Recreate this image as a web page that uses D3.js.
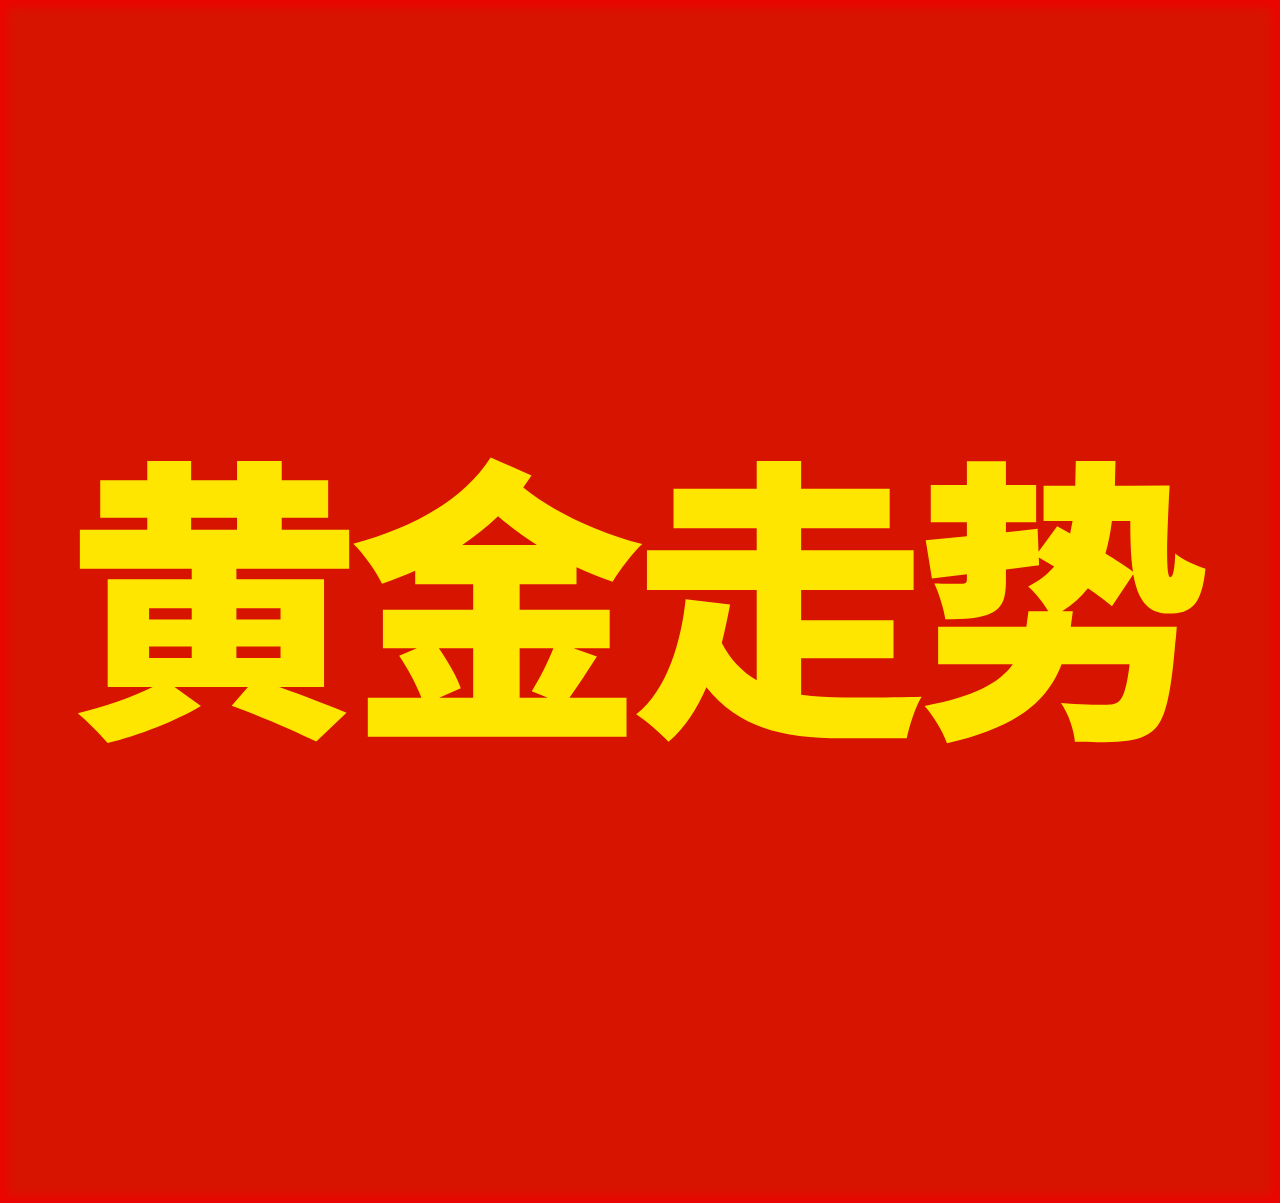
<!DOCTYPE html>
<html><head><meta charset="utf-8">
<script src="https://cdn.jsdelivr.net/npm/d3@7"></script>
<style>html,body{margin:0;padding:0;background:#d71400;overflow:hidden}</style>
</head><body>
<script>
const titleChars = ["黄","金","走","势"];
const W = 1280, H = 1203;
const svg = d3.select("body").append("svg").attr("width", W).attr("height", H);
const defs = svg.append("defs");
defs.append("filter").attr("id","blur").append("feGaussianBlur").attr("stdDeviation", 6);
svg.append("rect").attr("width", W).attr("height", H).attr("fill", "#d71400");
svg.append("rect").attr("x",0).attr("y",0).attr("width",W).attr("height",H)
  .attr("fill","none").attr("stroke","#f00000").attr("stroke-width",12).attr("filter","url(#blur)");
const x = d3.scaleBand().domain(titleChars).range([72, 1205]).padding(0);
svg.append("g").selectAll("text").data(titleChars).join("text")
  .attr("x", d => x(d) + x.bandwidth()/2)
  .attr("y", 585)
  .attr("text-anchor","middle")
  .attr("dominant-baseline","central")
  .attr("font-family", "'Noto Sans CJK SC'")
  .attr("font-weight", 900)
  .attr("font-size", 296)
  .attr("fill", "#ffe600")
  .text(d => d);
</script>
</body></html>
